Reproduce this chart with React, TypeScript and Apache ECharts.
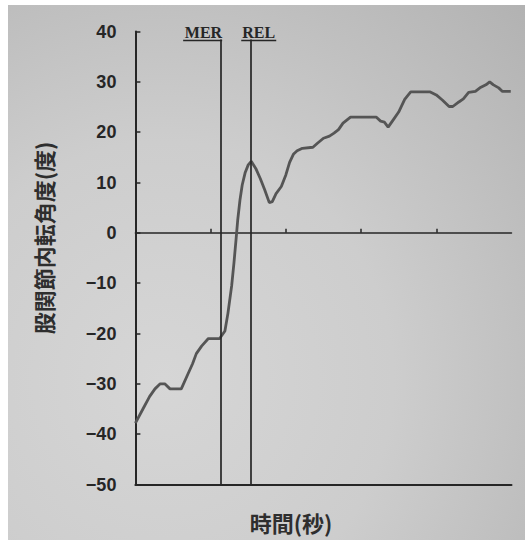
import React, { useEffect, useRef } from "react";
import * as echarts from "echarts";

// Hip adduction / internal rotation angle over a throwing motion
const time = [
  0, 0.1, 0.19, 0.26, 0.33, 0.39, 0.46, 0.61, 0.7, 0.76, 0.81, 0.88, 0.97, 1.12,
  1.19, 1.23, 1.28, 1.31, 1.34, 1.36, 1.39, 1.42, 1.46, 1.5, 1.54, 1.6, 1.66,
  1.72, 1.78, 1.82, 1.87, 1.94, 2.0, 2.05, 2.1, 2.15, 2.22, 2.36, 2.42, 2.5,
  2.58, 2.64, 2.7, 2.76, 2.86, 3.2, 3.26, 3.31, 3.36, 3.43, 3.5, 3.58, 3.66,
  3.92, 4.0, 4.08, 4.17, 4.22, 4.3, 4.36, 4.43, 4.52, 4.58, 4.66, 4.71, 4.76,
  4.83, 4.88, 4.99,
];
const angle = [
  -37.8, -35, -32.5, -31, -30, -30, -31, -31, -28, -26, -24, -22.5, -21, -21,
  -19.5, -16, -10.5, -6, -1, 2.5, 6.5, 9.5, 12, 13.5, 14.2, 12.8, 10.8, 8.5, 6,
  6.2, 7.8, 9.2, 11.5, 14, 15.6, 16.3, 16.8, 17, 17.8, 18.8, 19.2, 19.8, 20.5,
  21.8, 23, 23, 22.2, 22, 21, 22.5, 24, 26.5, 28, 28, 27.4, 26.4, 25.1, 25.1,
  26, 26.6, 27.9, 28.1, 28.8, 29.4, 30, 29.4, 28.8, 28.1, 28.1,
];

// Phase events (maximum external rotation, ball release)
const eventNames = ["MER", "REL"];
const eventTimes = [1.14, 1.54];
const eventLineTop = 38.4;

const Y_MIN = -50;
const Y_MAX = 40;
const Y_STEP = 10;
const X_MIN = 0;
const X_MAX = 5;
const X_STEP = 1;
const xTickValues = [1, 2, 3, 4];

const yTitle = "股関節内転角度(度)";
const xTitle = "時間(秒)";

const INK = "#262626";
const CJK = '"Noto Sans CJK JP", "Noto Sans", sans-serif';

export default function App() {
  const ref = useRef<HTMLDivElement>(null);

  useEffect(() => {
    if (!ref.current) return;
    const chart = echarts.init(ref.current, null, { renderer: "svg" });

    chart.setOption({
      animation: false,
      backgroundColor: "transparent",
      grid: { left: 135.4, right: 19.5, top: 31.5, bottom: 55.5 },
      xAxis: [
        {
          type: "value",
          min: X_MIN,
          max: X_MAX,
          interval: X_STEP,
          axisLine: { onZero: true, lineStyle: { color: INK, width: 1.5 } },
          axisTick: {
            inside: true,
            length: 4,
            customValues: xTickValues,
            lineStyle: { color: INK, width: 1.5 },
          },
          axisLabel: { show: false },
          splitLine: { show: false },
        },
        {
          type: "value",
          min: X_MIN,
          max: X_MAX,
          position: "bottom",
          axisLine: { onZero: false, lineStyle: { color: INK, width: 2 } },
          axisTick: { show: false },
          axisLabel: { show: false },
          splitLine: { show: false },
        },
      ],
      yAxis: {
        type: "value",
        min: Y_MIN,
        max: Y_MAX,
        interval: Y_STEP,
        axisLine: { show: true, lineStyle: { color: INK, width: 2 } },
        axisTick: {
          show: true,
          inside: true,
          length: 5,
          lineStyle: { color: INK, width: 1.5 },
        },
        axisLabel: {
          margin: 19,
          color: INK,
          fontSize: 18,
          fontWeight: "bold",
          fontFamily: '"Liberation Sans", Arial, sans-serif',
          formatter: (v: number) => (v < 0 ? "\u2212" + Math.abs(v) : String(v)),
        },
        splitLine: { show: false },
      },
      series: [
        {
          type: "line",
          xAxisIndex: 0,
          yAxisIndex: 0,
          showSymbol: false,
          lineStyle: { color: "#555555", width: 2.8 },
          data: time.map((t, i) => [t, angle[i]]),
          markLine: {
            silent: true,
            symbol: "none",
            label: { show: false },
            lineStyle: { color: INK, width: 1.7, type: "solid" },
            data: eventTimes.map((t) => [
              { coord: [t, Y_MIN] },
              { coord: [t, eventLineTop] },
            ]),
          },
        },
      ],
    });

    // Event labels (underlined) placed at the top of each event line
    const labelDx = [1, -9];
    const labelAlign = ["right", "left"];
    const labelEls: any[] = [];
    eventNames.forEach((name, i) => {
      const [px, py] = chart.convertToPixel(
        { xAxisIndex: 0, yAxisIndex: 0 },
        [eventTimes[i], eventLineTop]
      ) as number[];
      const tx = px + labelDx[i];
      const w = name === "MER" ? 38 : 34;
      const x0 = labelAlign[i] === "right" ? tx - w : tx;
      labelEls.push({
        type: "text",
        x: tx,
        y: py - 7,
        style: {
          text: name,
          align: labelAlign[i],
          verticalAlign: "middle",
          fill: INK,
          font: 'bold 16px "Liberation Serif", "Times New Roman", serif',
        },
      });
      labelEls.push({
        type: "line",
        shape: { x1: x0 - 1, y1: py + 1, x2: x0 + w, y2: py + 1 },
        style: { stroke: INK, lineWidth: 1.5 },
      });
    });

    chart.setOption({
      graphic: [
        {
          type: "text",
          x: 43,
          y: 238,
          rotation: Math.PI / 2,
          style: {
            text: yTitle,
            align: "center",
            verticalAlign: "middle",
            fill: "#2e2e2e",
            font: `bold 22px ${CJK}`,
          },
        },
        {
          type: "text",
          x: 291,
          y: 522,
          style: {
            text: xTitle,
            align: "center",
            verticalAlign: "middle",
            fill: "#2e2e2e",
            font: `bold 22px ${CJK}`,
          },
        },
        ...labelEls,
      ],
    });

    return () => chart.dispose();
  }, []);

  return (
    <div
      style={{
        position: "absolute",
        left: 0,
        top: 0,
        width: 531,
        height: 540,
        background: "#ffffff",
        overflow: "hidden",
      }}
    >
      <div
        style={{
          position: "absolute",
          left: 8,
          top: 5,
          width: 517,
          height: 535,
          background:
            "radial-gradient(ellipse at 30% 70%, #d6d6d6 0%, #cdcdcd 45%, #b2b2b2 100%)",
        }}
      />
      <div
        ref={ref}
        style={{ position: "absolute", left: 0, top: 0, width: 531, height: 540 }}
      />
    </div>
  );
}
